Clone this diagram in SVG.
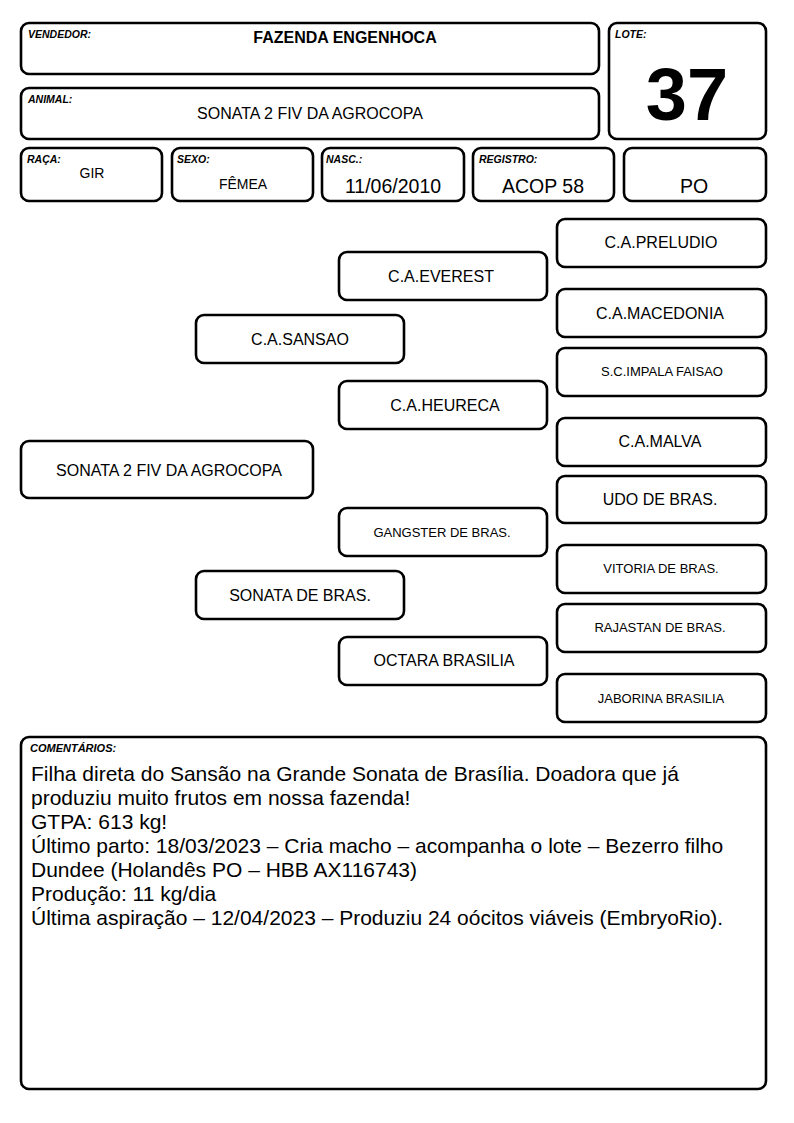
<svg xmlns="http://www.w3.org/2000/svg" width="794" height="1123" viewBox="0 0 794 1123">
<style>
.b{fill:#fff;stroke:#000;stroke-width:2.6}
.lb{font-family:"Liberation Sans",Arial,sans-serif;font-size:10.5px;font-weight:bold;font-style:italic}
.t{font-family:"Liberation Sans",Arial,sans-serif;font-size:16px;text-anchor:middle}
.s{font-family:"Liberation Sans",Arial,sans-serif;font-size:13px;text-anchor:middle}
.h{font-family:"Liberation Sans",Arial,sans-serif;font-size:19.5px;text-anchor:middle}
.c{font-family:"Liberation Sans",Arial,sans-serif;font-size:21px}
</style>
<rect width="794" height="1123" fill="#fff"/>
<g id="vendedor"><rect class="b" x="21" y="23" width="578" height="51" rx="8"/><text class="lb" x="28" y="38">VENDEDOR:</text><text class="t" x="345" y="43" font-weight="bold">FAZENDA ENGENHOCA</text></g>
<g id="animal"><rect class="b" x="21" y="88" width="578" height="51" rx="8"/><text class="lb" x="28" y="103">ANIMAL:</text><text class="t" x="310" y="119">SONATA 2 FIV DA AGROCOPA</text></g>
<g id="lote"><rect class="b" x="609" y="23" width="157" height="116" rx="8"/><text class="lb" x="615" y="38">LOTE:</text><text x="687" y="120" text-anchor="middle" font-family="Liberation Sans,Arial,sans-serif" font-weight="bold" font-size="74">37</text></g>
<g id="raca"><rect class="b" x="21" y="148" width="141" height="53" rx="8"/><text class="lb" x="27" y="163">RAÇA:</text><text class="t" x="92" y="178" style="font-size:14px">GIR</text></g>
<g id="sexo"><rect class="b" x="172" y="148" width="141" height="53" rx="8"/><text class="lb" x="177" y="163">SEXO:</text><text class="t" x="243" y="189" style="font-size:14px">FÊMEA</text></g>
<g id="nasc"><rect class="b" x="322" y="148" width="142" height="53" rx="8"/><text class="lb" x="326" y="163">NASC.:</text><text class="h" x="393" y="193">11/06/2010</text></g>
<g id="registro"><rect class="b" x="473" y="148" width="141" height="53" rx="8"/><text class="lb" x="479" y="163">REGISTRO:</text><text class="h" x="543" y="193">ACOP 58</text></g>
<g id="po"><rect class="b" x="624" y="148" width="142" height="53" rx="8"/><text class="h" x="694" y="193">PO</text></g>
<g id="connectors"></g>
<g id="n-animal"><rect class="b" x="21" y="441" width="292" height="57" rx="8"/><text class="t" x="169" y="476">SONATA 2 FIV DA AGROCOPA</text></g>
<g id="n-sansao"><rect class="b" x="196" y="315" width="208" height="48" rx="8"/><text class="t" x="300" y="345">C.A.SANSAO</text></g>
<g id="n-sonata"><rect class="b" x="196" y="571" width="208" height="48" rx="8"/><text class="t" x="300" y="601">SONATA DE BRAS.</text></g>
<g id="n-everest"><rect class="b" x="339" y="252" width="208" height="48" rx="8"/><text class="t" x="441" y="282">C.A.EVEREST</text></g>
<g id="n-heureca"><rect class="b" x="339" y="381" width="208" height="48" rx="8"/><text class="t" x="445" y="411">C.A.HEURECA</text></g>
<g id="n-gangster"><rect class="b" x="339" y="508" width="208" height="48" rx="8"/><text class="s" x="442" y="537">GANGSTER DE BRAS.</text></g>
<g id="n-octara"><rect class="b" x="339" y="637" width="208" height="48" rx="8"/><text class="t" x="444" y="666">OCTARA BRASILIA</text></g>
<g id="n-preludio"><rect class="b" x="557" y="219" width="209" height="48" rx="8"/><text class="t" x="661" y="248">C.A.PRELUDIO</text></g>
<g id="n-macedonia"><rect class="b" x="557" y="289" width="209" height="48" rx="8"/><text class="t" x="660" y="319">C.A.MACEDONIA</text></g>
<g id="n-impala"><rect class="b" x="557" y="348" width="209" height="48" rx="8"/><text class="s" x="662" y="376">S.C.IMPALA FAISAO</text></g>
<g id="n-malva"><rect class="b" x="557" y="418" width="209" height="48" rx="8"/><text class="t" x="660" y="447">C.A.MALVA</text></g>
<g id="n-udo"><rect class="b" x="557" y="476" width="209" height="47" rx="8"/><text class="t" x="660" y="505">UDO DE BRAS.</text></g>
<g id="n-vitoria"><rect class="b" x="557" y="545" width="209" height="48" rx="8"/><text class="s" x="661" y="573">VITORIA DE BRAS.</text></g>
<g id="n-rajastan"><rect class="b" x="557" y="604" width="209" height="48" rx="8"/><text class="s" x="660" y="632">RAJASTAN DE BRAS.</text></g>
<g id="n-jaborina"><rect class="b" x="557" y="674" width="209" height="48" rx="8"/><text class="s" x="661" y="703">JABORINA BRASILIA</text></g>
<g id="comentarios"><rect class="b" x="21" y="737" width="745" height="352" rx="8"/><text class="lb" x="30" y="752" style="font-size:11px">COMENTÁRIOS:</text>
<text class="c" x="31" y="781">Filha direta do Sansão na Grande Sonata de Brasília. Doadora que já</text>
<text class="c" x="31" y="805">produziu muito frutos em nossa fazenda!</text>
<text class="c" x="31" y="829">GTPA: 613 kg!</text>
<text class="c" x="31" y="853">Último parto: 18/03/2023 – Cria macho – acompanha o lote – Bezerro filho</text>
<text class="c" x="31" y="877">Dundee (Holandês PO – HBB AX116743)</text>
<text class="c" x="31" y="901">Produção: 11 kg/dia</text>
<text class="c" x="31" y="925">Última aspiração – 12/04/2023 – Produziu 24 oócitos viáveis (EmbryoRio).</text>
</g>
</svg>
